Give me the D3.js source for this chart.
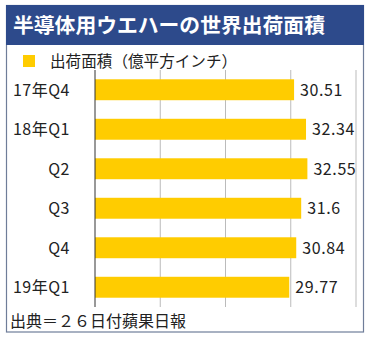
<!DOCTYPE html>
<html><head><meta charset="utf-8">
<script src="https://cdn.jsdelivr.net/npm/d3@7"></script>
<style>body{margin:0;background:#fff}svg{display:block}</style>
</head><body>
<svg id="c" width="372" height="340"></svg>
<script>
const title = "半導体用ウエハーの世界出荷面積";
const seriesName = "出荷面積（億平方インチ）";
const categories = ["17年Q4","18年Q1","Q2","Q3","Q4","19年Q1"];
const values = [30.51, 32.34, 32.55, 31.6, 30.84, 29.77];
const valueLabels = ["30.51","32.34","32.55","31.6","30.84","29.77"];
const ticks = [0,10,20,30,40];
const source = "出典＝２６日付蘋果日報";

const font = "'Noto Sans CJK JP','Noto Sans',sans-serif";
const svg = d3.select("#c");

// frame
svg.append("rect").attr("x",6.5).attr("y",5.5).attr("width",357).attr("height",326.5)
  .attr("fill","#fff").attr("stroke","#6f7d99").attr("stroke-width",1.2);
svg.append("rect").attr("x",6).attr("y",5).attr("width",358).attr("height",40).attr("fill","#2d4a8b");
svg.append("text").attr("x",13).attr("y",33).attr("fill","#fff")
  .attr("font-family",font).attr("font-weight","bold").attr("font-size",20.8).text(title);

// legend
svg.append("rect").attr("x",23).attr("y",55).attr("width",12).attr("height",12).attr("fill","#ffcc00");
svg.append("text").attr("x",50).attr("y",67).attr("fill","#222")
  .attr("font-family",font).attr("font-size",15.6).text(seriesName);

const x = d3.scaleLinear().domain([0,40]).range([95,356]);
const y = d3.scaleBand().domain(categories).range([70,307]).paddingInner(0.47).paddingOuter(0.235);

// gridlines
svg.append("g").selectAll("line").data(ticks.slice(1)).join("line")
  .attr("x1",d=>x(d)).attr("x2",d=>x(d)).attr("y1",70).attr("y2",307)
  .attr("stroke","#bbbbbb").attr("stroke-width",1);

// bars
svg.append("g").selectAll("rect").data(values).join("rect")
  .attr("x",x(0)).attr("y",(d,i)=>y(categories[i]))
  .attr("width",d=>x(d)-x(0)).attr("height",y.bandwidth())
  .attr("fill","#ffcc00");

// axis line
svg.append("line").attr("x1",x(0)).attr("x2",x(0)).attr("y1",70).attr("y2",307)
  .attr("stroke","#333").attr("stroke-width",1);

// category labels
svg.append("g").selectAll("text").data(categories).join("text")
  .attr("x",70).attr("y",d=>y(d)+y.bandwidth()/2).attr("dy","0.36em")
  .attr("text-anchor","end").attr("font-family",font).attr("font-size",16).attr("letter-spacing",0.5)
  .attr("fill","#222").text(d=>d);

// value labels
svg.append("g").selectAll("text").data(values).join("text")
  .attr("x",d=>x(d)+6).attr("y",(d,i)=>y(categories[i])+y.bandwidth()/2).attr("dy","0.36em")
  .attr("font-family",font).attr("font-size",16).attr("letter-spacing",0.6)
  .attr("fill","#222").text((d,i)=>valueLabels[i]);

// source
svg.append("text").attr("x",10).attr("y",327).attr("fill","#222")
  .attr("font-family",font).attr("font-size",16).text(source);
</script>
</body></html>
